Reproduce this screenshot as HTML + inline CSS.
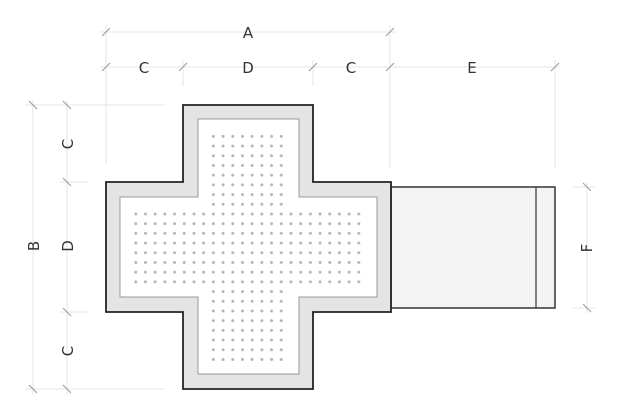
<!DOCTYPE html>
<html><head><style>html,body{margin:0;background:#fff}svg{display:block}</style></head><body>
<svg width="620" height="419" viewBox="0 0 620 419" xmlns="http://www.w3.org/2000/svg" font-family="DejaVu Sans, Liberation Sans, sans-serif">
<defs>
<pattern id="dots" x="208.5" y="131.5" width="9.7" height="9.7" patternUnits="userSpaceOnUse">
<circle cx="4.85" cy="4.85" r="1.5" fill="#b5b5b5"/></pattern>
<clipPath id="dc"><rect x="208" y="131" width="80" height="236"/><rect x="132" y="208" width="233" height="80"/></clipPath>
</defs>
<g stroke="#e6e6e6" stroke-width="1" fill="none">
<line x1="106" y1="25" x2="106" y2="164"/><line x1="183" y1="60" x2="183" y2="86"/><line x1="313" y1="60" x2="313" y2="86"/>
<line x1="390" y1="25" x2="390" y2="168"/><line x1="555" y1="60" x2="555" y2="168"/>
<line x1="100" y1="32" x2="396" y2="32"/><line x1="100" y1="67" x2="560" y2="67"/>
<line x1="25" y1="105" x2="165" y2="105"/><line x1="60" y1="182" x2="88" y2="182"/><line x1="60" y1="312" x2="88" y2="312"/><line x1="25" y1="389" x2="165" y2="389"/>
<line x1="33" y1="100" x2="33" y2="395"/><line x1="67" y1="100" x2="67" y2="395"/>
<line x1="587" y1="182" x2="587" y2="313"/><line x1="573" y1="187" x2="595" y2="187"/><line x1="573" y1="308" x2="595" y2="308"/>
</g>
<g stroke="#999" stroke-width="1">
<line x1="102" y1="36" x2="110" y2="28"/><line x1="386" y1="36" x2="394" y2="28"/>
<line x1="102" y1="71" x2="110" y2="63"/><line x1="179" y1="71" x2="187" y2="63"/><line x1="309" y1="71" x2="317" y2="63"/><line x1="386" y1="71" x2="394" y2="63"/><line x1="551" y1="71" x2="559" y2="63"/>
<line x1="29" y1="101" x2="37" y2="109"/><line x1="29" y1="385" x2="37" y2="393"/>
<line x1="63" y1="101" x2="71" y2="109"/><line x1="63" y1="178" x2="71" y2="186"/><line x1="63" y1="308" x2="71" y2="316"/><line x1="63" y1="385" x2="71" y2="393"/>
<line x1="583" y1="183" x2="591" y2="191"/><line x1="583" y1="304" x2="591" y2="312"/>
</g>
<rect x="391" y="187" width="164" height="121" fill="#f3f3f3" stroke="#333" stroke-width="1.5"/>
<line x1="536" y1="187" x2="536" y2="308" stroke="#333" stroke-width="1.2"/>
<polygon points="183,105 313,105 313,182 391,182 391,312 313,312 313,389 183,389 183,312 106,312 106,182 183,182" fill="#e4e4e4" stroke="#222" stroke-width="1.8"/>
<polygon points="198,119 299,119 299,197 377,197 377,297 299,297 299,374 198,374 198,297 120,297 120,197 198,197" fill="#fff" stroke="#999" stroke-width="1"/>
<rect x="120" y="119" width="260" height="260" fill="url(#dots)" clip-path="url(#dc)"/>
<g fill="#333" font-size="15" text-anchor="middle">
<text x="248" y="38">A</text><text x="144" y="73">C</text><text x="248" y="73">D</text><text x="351" y="73">C</text><text x="472" y="73">E</text>
<text transform="translate(39,246) rotate(-90)">B</text>
<text transform="translate(73,144) rotate(-90)">C</text>
<text transform="translate(73,246) rotate(-90)">D</text>
<text transform="translate(73,351) rotate(-90)">C</text>
<text transform="translate(592,248) rotate(-90)">F</text>
</g>
</svg>
</body></html>
